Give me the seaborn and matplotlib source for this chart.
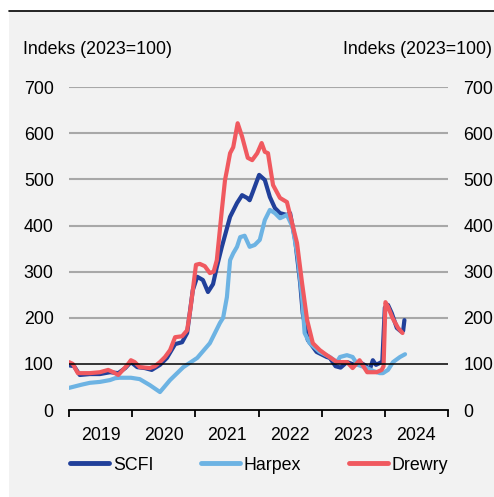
import numpy as np
import pandas as pd
import matplotlib
matplotlib.use("Agg")
import matplotlib.pyplot as plt
import seaborn as sns
from matplotlib.patches import Rectangle
from matplotlib.lines import Line2D

# --- data (decimal year, index 2023=100) ---
scfi_x = [2019.00, 2019.08, 2019.17, 2019.33, 2019.49, 2019.65, 2019.78, 2019.89, 2019.98,
          2020.08, 2020.20, 2020.31, 2020.44, 2020.55, 2020.68, 2020.79, 2020.87, 2020.96,
          2021.03, 2021.12, 2021.20, 2021.28, 2021.34, 2021.42, 2021.55, 2021.66, 2021.74,
          2021.82, 2021.86, 2021.91, 2022.01, 2022.10, 2022.18, 2022.26, 2022.34, 2022.45,
          2022.50, 2022.58, 2022.66, 2022.70, 2022.78, 2022.92, 2023.08, 2023.13, 2023.22,
          2023.30, 2023.40, 2023.52, 2023.60, 2023.70, 2023.76, 2023.81, 2023.86, 2023.92,
          2023.96, 2024.00, 2024.05, 2024.11, 2024.19, 2024.26, 2024.29, 2024.31]
scfi_y = [97, 95, 76, 78, 78, 82, 80, 91, 104,
          93, 91, 87, 98, 113, 143, 147, 167, 260,
          289, 282, 256, 273, 310, 354, 419, 449, 466,
          460, 455, 473, 510, 499, 462, 438, 427, 423,
          427, 369, 275, 210, 152, 126, 115, 113, 95,
          92, 104, 98, 104, 96, 87, 108, 98, 102,
          105, 222, 228, 210, 178, 170, 172, 195]

harpex_x = [2019.00, 2019.20, 2019.33, 2019.49, 2019.65, 2019.73, 2019.80, 2019.98,
            2020.12, 2020.28, 2020.44, 2020.60, 2020.81,
            2021.03, 2021.23, 2021.39, 2021.44, 2021.50, 2021.55, 2021.60, 2021.66, 2021.71,
            2021.78, 2021.86, 2021.94, 2022.02, 2022.10, 2022.18, 2022.26, 2022.34, 2022.45,
            2022.54, 2022.62, 2022.69, 2022.73, 2022.81, 2022.97,
            2023.13, 2023.24, 2023.29, 2023.40, 2023.49, 2023.57, 2023.72, 2023.81, 2023.92,
            2023.97, 2024.05, 2024.13, 2024.24, 2024.32]
harpex_y = [48, 55, 59, 61, 65, 69, 70, 70,
            67, 54, 39, 65, 93,
            113, 145, 189, 200, 245, 325, 340, 354, 375,
            378, 354, 358, 369, 412, 434, 427, 416, 423,
            397, 332, 245, 167, 145, 126,
            115, 104, 115, 119, 115, 98, 91, 85, 80,
            80, 87, 104, 115, 121]

drewry_x = [2019.00, 2019.06, 2019.14, 2019.33, 2019.49, 2019.62, 2019.70, 2019.78, 2019.84,
            2019.92, 2019.98, 2020.04, 2020.12, 2020.28, 2020.36, 2020.44, 2020.52, 2020.60,
            2020.68, 2020.79, 2020.87, 2020.92, 2020.96, 2021.01, 2021.07, 2021.15, 2021.23,
            2021.29, 2021.34, 2021.42, 2021.47, 2021.50, 2021.55, 2021.60, 2021.67, 2021.74,
            2021.83, 2021.90, 2021.98, 2022.05, 2022.10, 2022.15, 2022.23, 2022.34, 2022.45,
            2022.50, 2022.61, 2022.69, 2022.77, 2022.86, 2022.97, 2023.08, 2023.24, 2023.40,
            2023.49, 2023.60, 2023.72, 2023.87, 2023.95, 2023.98, 2024.01, 2024.05, 2024.12,
            2024.21, 2024.28]
drewry_y = [104, 100, 80, 80, 82, 87, 82, 76, 85,
            97, 108, 104, 93, 91, 95, 104, 115, 130,
            158, 160, 173, 217, 260, 315, 317, 312, 297,
            300, 325, 434, 499, 520, 557, 570, 622, 593,
            547, 542, 557, 579, 560, 557, 488, 460, 451,
            423, 362, 275, 195, 145, 130, 119, 104, 104,
            91, 108, 82, 82, 87, 95, 234, 224, 200,
            178, 167]

series_names = ["SCFI", "Harpex", "Drewry"]
colors = ["#21409A", "#6DB3E3", "#F0595F"]
y_ticks = [0, 100, 200, 300, 400, 500, 600, 700]
years = [2019, 2020, 2021, 2022, 2023, 2024]

df = pd.concat([
    pd.DataFrame({"year": scfi_x, "value": scfi_y, "series": "SCFI"}),
    pd.DataFrame({"year": harpex_x, "value": harpex_y, "series": "Harpex"}),
    pd.DataFrame({"year": drewry_x, "value": drewry_y, "series": "Drewry"}),
])

# --- style ---
bg = "#F2F2F2"
sns.set_theme(style="white", rc={"axes.facecolor": bg, "text.color": "black",
                                 "xtick.color": "black", "ytick.color": "black"})
plt.rcParams["font.family"] = ["Liberation Sans", "DejaVu Sans"]
fs = 12.8

fig = plt.figure(figsize=(4.94, 4.97), dpi=100)
fig.patch.set_facecolor("white")
fig.patches.append(Rectangle((9 / 494, 0), 1, 486 / 497, transform=fig.transFigure,
                             facecolor=bg, edgecolor="none", zorder=-10))
fig.lines.append(Line2D([9 / 494, 1], [486 / 497, 486 / 497], transform=fig.transFigure,
                        color="black", lw=1.2, zorder=-5))

ax = fig.add_axes([69 / 494, 0.175, 379 / 494, 0.6494])
ax.set_facecolor(bg)

sns.lineplot(data=df, x="year", y="value", hue="series", hue_order=series_names,
             palette=colors, estimator=None, linewidth=3.0, legend=False, ax=ax)

# gridlines under the series, black reference line at 100 on top
for v in y_ticks[2:]:
    ax.axhline(v, color="#A8A8A8", lw=1.5, zorder=1.5)
ax.axhline(100, color="black", lw=1.1, zorder=5)

# --- axes ---
ax.set_xlim(2019, 2025)
ax.set_ylim(0, 700)
ax.set_yticks(y_ticks)
for s in ["top", "left", "right"]:
    ax.spines[s].set_visible(False)
ax.spines["bottom"].set_color("black")
ax.spines["bottom"].set_linewidth(1.3)
ax.tick_params(axis="y", length=0, pad=11, labelsize=fs, labelright=True, colors="black")

ax.set_xticks(years + [2025])
ax.set_xticklabels([])
ax.set_xticks([y + 0.5 for y in years], minor=True)
ax.set_xticklabels([str(y) for y in years], minor=True)
ax.tick_params(axis="x", which="major", direction="out", length=5, width=1.3, color="black",
               bottom=True)
ax.tick_params(axis="x", which="minor", length=0, pad=12, labelsize=fs, colors="black")
ax.set_xlabel("")
ax.set_ylabel("")

fig.text(23 / 494, 1 - 50 / 497, "Indeks (2023=100)", ha="left", va="center", fontsize=fs)
fig.text(492 / 494, 1 - 50 / 497, "Indeks (2023=100)", ha="right", va="center", fontsize=fs)

handles = [Line2D([], [], color=c, lw=3.5) for c in colors]
fig.legend(handles, series_names, loc="center", bbox_to_anchor=(0.525, 1 - 465 / 497),
           ncol=3, frameon=False, fontsize=fs, handlelength=2.2, handletextpad=0.2,
           columnspacing=2.7)

fig.savefig("out.png", dpi=100, facecolor=fig.get_facecolor())
